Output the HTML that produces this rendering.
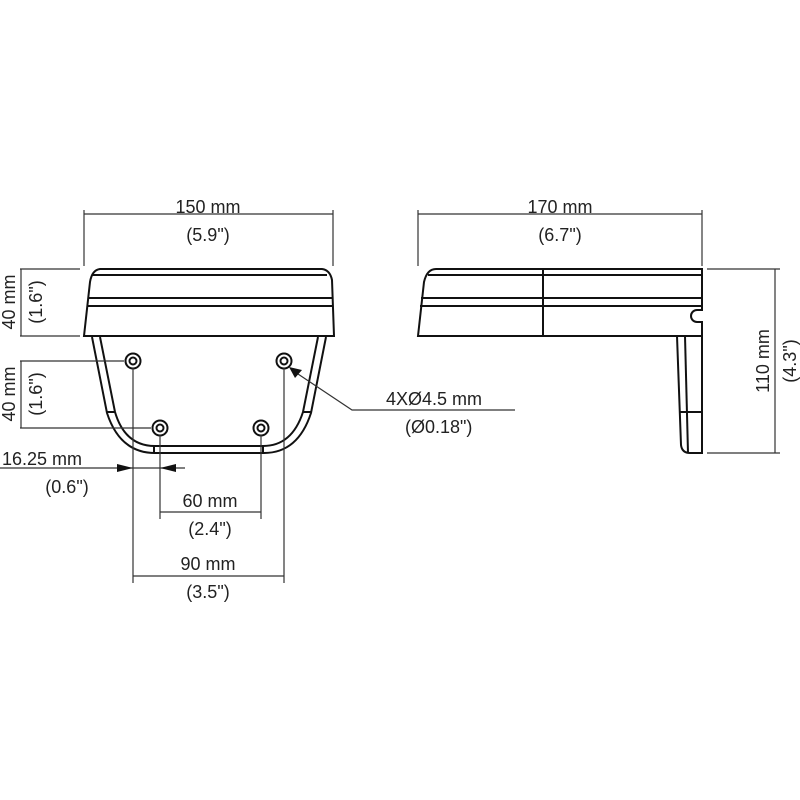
<!DOCTYPE html>
<html><head><style>body{margin:0;background:#fff}svg{display:block}text{font-family:"Liberation Sans",sans-serif;font-size:18px;fill:#222}</style></head>
<body>
<svg width="800" height="800" viewBox="0 0 800 800" xmlns="http://www.w3.org/2000/svg">
<g fill="none" stroke="#111" stroke-width="2">
<path d="M84,336 L90,282 Q92,270 100,269 L322,269 Q330,270 332,280 L334,336 Z"/>
<line x1="92" y1="275" x2="327" y2="275"/>
<line x1="88" y1="298" x2="332" y2="298"/>
<line x1="87" y1="306" x2="333" y2="306"/>
<path d="M92,337 L107,413 Q120,453 155,453 L264,453 Q298,453 311,413 L326,337"/>
<path d="M100,337 L115,412 Q125,446 155,446 L263,446 Q292,446 303,412 L318,337"/>
<line x1="154" y1="446" x2="154" y2="453"/>
<line x1="263" y1="446" x2="263" y2="453"/>
<line x1="107" y1="412" x2="115" y2="412"/>
<line x1="303" y1="412" x2="311" y2="412"/>
<circle cx="133" cy="361" r="7.5"/><circle cx="133" cy="361" r="3.5"/>
<circle cx="284" cy="361" r="7.5"/><circle cx="284" cy="361" r="3.5"/>
<circle cx="160" cy="428" r="7.5"/><circle cx="160" cy="428" r="3.5"/>
<circle cx="261" cy="428" r="7.5"/><circle cx="261" cy="428" r="3.5"/>
<path d="M418,336 L424,282 Q427,269 436,269 L702,269 L702,310 L697,310 A6,6 0 0 0 697,322 L702,322 L702,336 Z"/>
<line x1="428" y1="275" x2="702" y2="275"/>
<line x1="421" y1="298" x2="702" y2="298"/>
<line x1="420" y1="306" x2="702" y2="306"/>
<line x1="543" y1="269" x2="543" y2="336"/>
<path d="M677,336 L681,445 Q682,453 690,453 L702,453 L702,336"/>
<line x1="685" y1="336" x2="688" y2="453"/>
<line x1="680" y1="412" x2="702" y2="412"/>
</g>
<g fill="none" stroke="#333" stroke-width="1.2">
<line x1="84" y1="210" x2="84" y2="266"/><line x1="333" y1="210" x2="333" y2="266"/>
<line x1="84" y1="214" x2="333" y2="214"/>
<line x1="418" y1="210" x2="418" y2="266"/><line x1="702" y1="210" x2="702" y2="266"/>
<line x1="418" y1="214" x2="702" y2="214"/>
<line x1="20" y1="269" x2="80" y2="269"/><line x1="20" y1="336" x2="80" y2="336"/>
<line x1="21" y1="269" x2="21" y2="336"/>
<line x1="20" y1="361" x2="124" y2="361"/><line x1="20" y1="428" x2="151" y2="428"/>
<line x1="21" y1="361" x2="21" y2="428"/>
<line x1="0" y1="468" x2="185" y2="468"/>
<line x1="133" y1="368" x2="133" y2="583"/><line x1="284" y1="368" x2="284" y2="583"/>
<line x1="160" y1="435" x2="160" y2="519"/><line x1="261" y1="435" x2="261" y2="519"/>
<line x1="160" y1="512" x2="261" y2="512"/>
<line x1="133" y1="576" x2="284" y2="576"/>
<line x1="707" y1="269" x2="780" y2="269"/><line x1="707" y1="453" x2="780" y2="453"/>
<line x1="775" y1="269" x2="775" y2="453"/>
<polyline points="292,370 352,410 515,410"/>
</g>
<g fill="#111">
<polygon points="133,468 117,464 117,472"/>
<polygon points="160,468 176,464 176,472"/>
<polygon points="289,367 302,370 295,378"/>
</g>
<text x="208" y="213" text-anchor="middle">150 mm</text>
<text x="208" y="241" text-anchor="middle">(5.9")</text>
<text x="560" y="213" text-anchor="middle">170 mm</text>
<text x="560" y="241" text-anchor="middle">(6.7")</text>
<text transform="translate(15,302) rotate(-90)" text-anchor="middle">40 mm</text>
<text transform="translate(42,302) rotate(-90)" text-anchor="middle">(1.6")</text>
<text transform="translate(15,394) rotate(-90)" text-anchor="middle">40 mm</text>
<text transform="translate(42,394) rotate(-90)" text-anchor="middle">(1.6")</text>
<text transform="translate(769,361) rotate(-90)" text-anchor="middle">110 mm</text>
<text transform="translate(796,361) rotate(-90)" text-anchor="middle">(4.3")</text>
<text x="2" y="465">16.25 mm</text>
<text x="67" y="493" text-anchor="middle">(0.6")</text>
<text x="210" y="507" text-anchor="middle">60 mm</text>
<text x="210" y="535" text-anchor="middle">(2.4")</text>
<text x="208" y="570" text-anchor="middle">90 mm</text>
<text x="208" y="598" text-anchor="middle">(3.5")</text>
<text x="386" y="405">4XØ4.5 mm</text>
<text x="405" y="433">(Ø0.18")</text>
</svg>
</body></html>
